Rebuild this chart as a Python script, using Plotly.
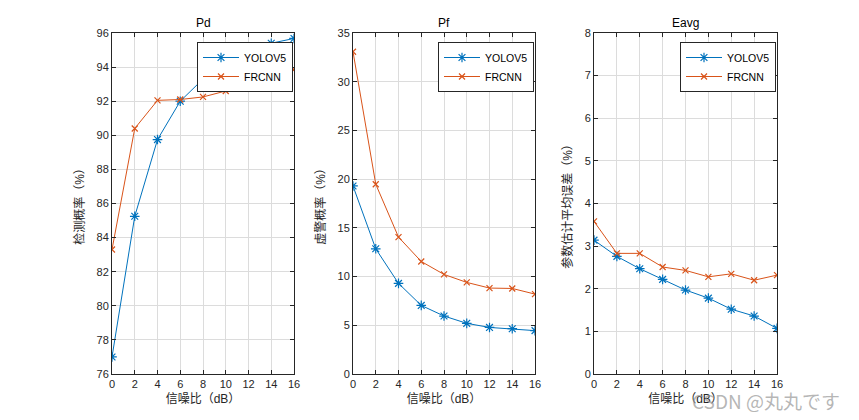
import plotly.graph_objects as go

snr = [0, 2, 4, 6, 8, 10, 12, 14, 16]
pd_yolo = [77.0, 85.25, 89.75, 92.0, 93.3, 94.2, 94.9, 95.4, 95.68]
pd_frcnn = [83.3, 90.4, 92.05, 92.1, 92.25, 92.6, 92.9, 93.0, 93.85]
pf_yolo = [19.3, 12.85, 9.3, 7.04, 5.95, 5.2, 4.78, 4.65, 4.45]
pf_frcnn = [33.08, 19.48, 14.05, 11.55, 10.22, 9.4, 8.82, 8.78, 8.2]
ea_yolo = [3.14, 2.76, 2.47, 2.22, 1.97, 1.78, 1.52, 1.36, 1.07]
ea_frcnn = [3.58, 2.83, 2.83, 2.51, 2.43, 2.28, 2.35, 2.2, 2.32]

titles = ["Pd", "Pf", "Eavg"]
ytitles = ["检测概率（%）", "虚警概率（%）", "参数估计平均误差（%）"]
xtitle = "信噪比（dB）"
series_names = ["YOLOV5", "FRCNN"]
yranges = [(76, 96, 2), (0, 35, 5), (0, 8, 1)]

BLUE = "#0072BD"
ORANGE = "#D95319"
FONT = "Liberation Sans, Noto Sans CJK SC, sans-serif"
OFF = 8  # page body margin
W, H = 859 - 2 * OFF, 420 - 2 * OFF


def px(v):
    return (v - OFF) / W


def py(v):
    return 1 - (v - OFF) / H


xpix = [(112, 294), (353, 535), (594, 777)]
ytop, ybot = 33, 374

fig = go.Figure()
data = [(pd_yolo, pd_frcnn), (pf_yolo, pf_frcnn), (ea_yolo, ea_frcnn)]
for i, (yv, fv) in enumerate(data):
    ax = "" if i == 0 else str(i + 1)
    leg = "legend" if i == 0 else f"legend{i + 1}"
    fig.add_trace(go.Scatter(
        x=snr, y=yv, name=series_names[0], mode="lines+markers",
        line=dict(color=BLUE, width=1),
        marker=dict(symbol="asterisk-open", size=8, color=BLUE, line=dict(color=BLUE, width=1.2)),
        xaxis="x" + ax, yaxis="y" + ax, legend=leg))
    fig.add_trace(go.Scatter(
        x=snr, y=fv, name=series_names[1], mode="lines+markers",
        line=dict(color=ORANGE, width=1),
        marker=dict(symbol="x-thin-open", size=6, color=ORANGE, line=dict(color=ORANGE, width=1.2)),
        xaxis="x" + ax, yaxis="y" + ax, legend=leg))

layout = dict(
    width=W, height=H, margin=dict(l=0, r=0, t=0, b=0, autoexpand=False),
    paper_bgcolor="white", plot_bgcolor="white",
    font=dict(family=FONT, size=11, color="#262626"),
    annotations=[],
)
for i in range(3):
    ax = "" if i == 0 else str(i + 1)
    x0, x1 = xpix[i]
    common = dict(showline=True, linecolor="#262626", linewidth=1, mirror="ticks",
                  ticks="inside", ticklen=4, tickcolor="#262626",
                  showgrid=True, gridcolor="#dcdcdc", gridwidth=1, zeroline=False,
                  automargin=False,
                  tickfont=dict(size=11, color="#262626"))
    layout["xaxis" + ax] = dict(
        domain=[px(x0), px(x1)], range=[0, 16], tickmode="array", tickvals=snr,
        anchor="y" + ax,
        title=dict(text=xtitle, font=dict(size=12, color="#262626"), standoff=5),
        **common)
    lo, hi, st = yranges[i]
    layout["yaxis" + ax] = dict(
        domain=[py(ybot), py(ytop)], range=[lo, hi], dtick=st, tick0=lo,
        anchor="x" + ax,
        title=dict(text=ytitles[i], font=dict(size=12, color="#262626"), standoff=9),
        **common)
    layout["annotations"].append(dict(
        text=titles[i], x=px((x0 + x1) / 2), y=py(23), xref="paper", yref="paper",
        showarrow=False, font=dict(size=12, color="#000000"), xanchor="center", yanchor="middle"))
    legkey = "legend" if i == 0 else f"legend{i + 1}"
    layout[legkey] = dict(
        x=px(x1 - 1), y=py(42), xanchor="right", yanchor="top",
        bgcolor="white", bordercolor="#262626", borderwidth=1,
        font=dict(size=10.5, color="#000000"), itemwidth=36, tracegroupgap=0)

layout["annotations"].append(dict(
    text="CSDN @丸丸です", x=px(842), y=py(400), xref="paper", yref="paper",
    showarrow=False, xanchor="right", yanchor="middle",
    font=dict(size=19, color="rgba(150,150,150,0.7)", family="Noto Sans CJK JP, sans-serif")))

fig.update_layout(**layout)
fig.write_html("out.html")
